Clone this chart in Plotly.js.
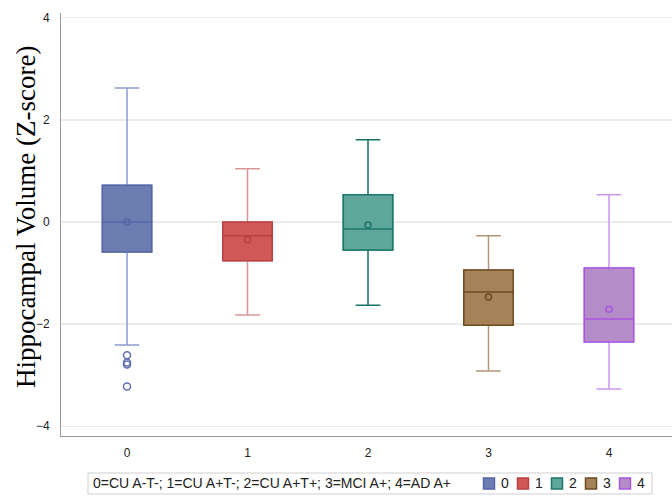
<!DOCTYPE html>
<html>
<head>
<meta charset="utf-8">
<script src="https://cdn.plot.ly/plotly-3.0.1.min.js"></script>
<style>html,body{margin:0;padding:0;background:#fff}#chart{width:672px;height:496px}</style>
</head>
<body>
<div id="chart"></div>
<script>
// Groups
var groups = ['0', '1', '2', '3', '4'];
var legendText = '0=CU A-T-; 1=CU A+T-; 2=CU A+T+; 3=MCI A+; 4=AD A+';
var yTitle = 'Hippocampal Volume (Z-score)';
// Box statistics (Z-score)
var lowerWhisker = [-2.41, -1.82, -1.63, -2.92, -3.27];
var q1Values     = [-0.59, -0.76, -0.55, -2.02, -2.35];
var medianValues = [0.00, -0.27, -0.14, -1.37, -1.90];
var q3Values     = [0.72, 0.00, 0.53, -0.94, -0.90];
var upperWhisker = [2.62, 1.04, 1.61, -0.27, 0.53];
var meanValues   = [0.00, -0.35, -0.06, -1.47, -1.71];
// Outliers of group 0
var outlierGroup = ['0', '0', '0', '0'];
var outlierValues = [-2.61, -2.75, -2.79, -3.22];

var fillColors    = ['rgb(108,125,178)', 'rgb(208,88,88)', 'rgb(95,166,155)', 'rgb(166,130,88)', 'rgb(180,140,200)'];
var outlineColors = ['rgb(85,100,165)', 'rgb(185,65,65)', 'rgb(30,120,105)', 'rgb(110,75,35)', 'rgb(170,85,225)'];
var whiskerColors = ['rgb(140,155,210)', 'rgb(215,150,150)', 'rgb(20,115,100)', 'rgb(175,150,120)', 'rgb(205,150,240)'];

var W = 672, H = 496, M = {l: 61, r: 0, t: 13, b: 60};
var PW = W - M.l - M.r, PH = H - M.t - M.b;
function px(x) { return (x - M.l) / PW; }
function py(y) { return (H - M.b - y) / PH; }

var traces = [];
// whiskers (under)
groups.forEach(function (g, i) {
  traces.push({
    type: 'box', x: [g], q1: [q1Values[i]], median: [medianValues[i]], q3: [q3Values[i]],
    lowerfence: [lowerWhisker[i]], upperfence: [upperWhisker[i]],
    width: 0.41, whiskerwidth: 0.5, fillcolor: 'rgba(0,0,0,0)',
    line: {color: whiskerColors[i], width: 1.5}, showlegend: false, hoverinfo: 'skip'
  });
});
// boxes (over)
groups.forEach(function (g, i) {
  traces.push({
    type: 'box', name: g, x: [g], q1: [q1Values[i]], median: [medianValues[i]], q3: [q3Values[i]],
    lowerfence: [q1Values[i]], upperfence: [q3Values[i]],
    width: 0.41, whiskerwidth: 0, fillcolor: fillColors[i],
    line: {color: outlineColors[i], width: 1.5}, showlegend: false
  });
});
// means
traces.push({
  type: 'scatter', mode: 'markers', x: groups, y: meanValues, showlegend: false,
  marker: {symbol: 'circle-open', size: 6, color: outlineColors, line: {width: 1.5, color: outlineColors}}
});
// outliers
traces.push({
  type: 'scatter', mode: 'markers', x: outlierGroup, y: outlierValues, showlegend: false,
  marker: {symbol: 'circle-open', size: 7, color: 'rgb(95,110,175)', line: {width: 1.5, color: 'rgb(95,110,175)'}}
});

// Legend (drawn as layout shapes + annotations)
var shapes = [{
  type: 'rect', xref: 'paper', yref: 'paper', x0: px(88), x1: px(652), y0: py(494), y1: py(473),
  line: {color: '#cfcfcf', width: 1}, fillcolor: '#fff', layer: 'above'
}];
var annotations = [{
  xref: 'paper', yref: 'paper', x: px(91), y: py(483.5), xanchor: 'left', yanchor: 'middle',
  text: legendText, showarrow: false, font: {size: 14, color: '#222'}
}, {
  xref: 'paper', yref: 'paper', x: px(26), y: py(217), xanchor: 'center', yanchor: 'middle',
  text: yTitle, textangle: -90, showarrow: false,
  font: {family: 'Liberation Serif, Times New Roman, serif', size: 27, color: '#000'}
}];
groups.forEach(function (g, i) {
  var cx = 489 + 34 * i;
  shapes.push({
    type: 'rect', xref: 'paper', yref: 'paper', x0: px(cx - 5.5), x1: px(cx + 5.5), y0: py(489), y1: py(478),
    line: {color: outlineColors[i], width: 1.5}, fillcolor: fillColors[i], layer: 'above'
  });
  annotations.push({
    xref: 'paper', yref: 'paper', x: px(cx + 10), y: py(483.5), xanchor: 'left', yanchor: 'middle',
    text: g, showarrow: false, font: {size: 14, color: '#222'}
  });
});

var layout = {
  width: W, height: H,
  margin: {l: M.l, r: M.r, t: M.t, b: M.b, autoexpand: false},
  paper_bgcolor: '#fff', plot_bgcolor: '#fff',
  boxmode: 'overlay', showlegend: false,
  font: {family: 'Liberation Sans, Arial, sans-serif', size: 12, color: '#222'},
  xaxis: {
    type: 'category', categoryorder: 'array', categoryarray: groups,
    range: [-0.548, 4.523], showgrid: false, zeroline: false,
    showline: true, linecolor: '#999', linewidth: 1,
    ticks: 'outside', ticklen: 6, tickcolor: 'rgba(0,0,0,0)',
    tickfont: {size: 12, color: '#222'}, automargin: false
  },
  yaxis: {
    range: [-4.19, 4.09], dtick: 2, tick0: 0,
    showgrid: true, gridcolor: '#ebebeb', gridwidth: 1.5,
    zeroline: false, showline: true, linecolor: '#999', linewidth: 1,
    ticks: 'outside', ticklen: 8, tickcolor: 'rgba(0,0,0,0)',
    tickfont: {size: 12, color: '#222'}, automargin: false
  },
  shapes: shapes,
  annotations: annotations
};

Plotly.newPlot('chart', traces, layout, {displayModeBar: false, staticPlot: true});
</script>
</body>
</html>
